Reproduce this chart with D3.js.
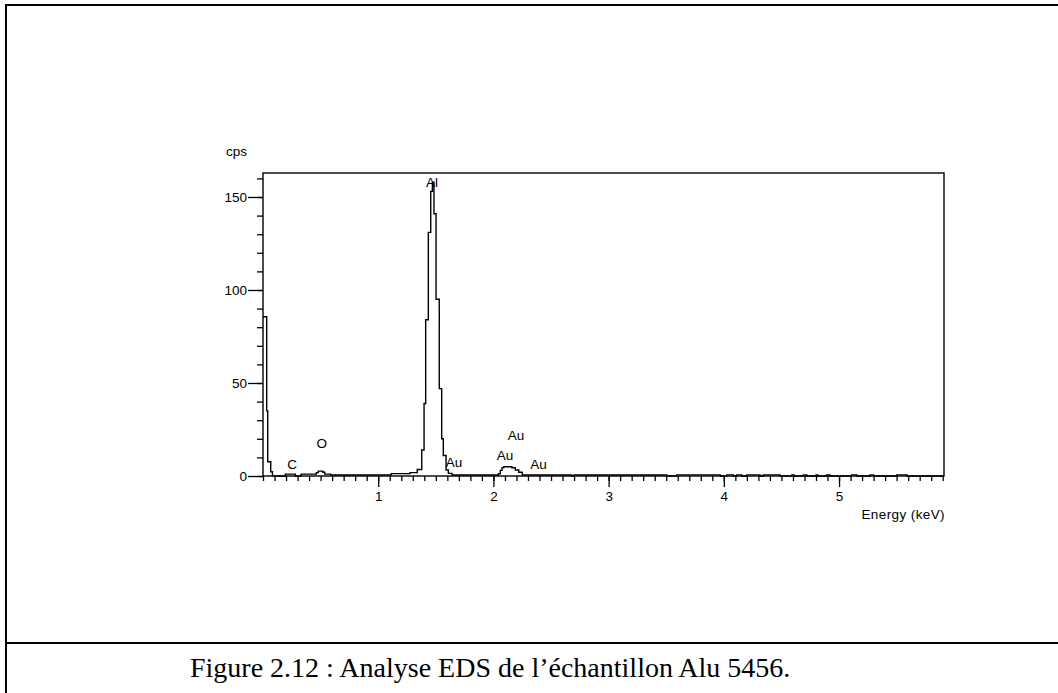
<!DOCTYPE html>
<html><head><meta charset="utf-8">
<script src="https://cdn.jsdelivr.net/npm/d3@7/dist/d3.min.js"></script>
<style>
html,body{margin:0;padding:0;background:#fff;}
svg{display:block;}
.ax text{font-family:"Liberation Sans",Arial,sans-serif;font-size:13.5px;fill:#000;}
</style></head>
<body><svg id="c" width="1058" height="693"></svg>
<script>
// ---- data ----
// spectrum as step levels: each energy (keV) starts a level of counts (cps)
const energies = [
  0, 0.032, 0.041, 0.067, 0.082,            // low-energy noise peak
  0.194, 0.281, 0.330,                       // C region
  0.463, 0.480, 0.520, 0.536, 0.588,         // O peak
  1.114, 1.276, 1.339, 1.378, 1.398, 1.412,  // Al rise
  1.435, 1.456, 1.470, 1.484, 1.502,         // Al top
  1.530, 1.551, 1.565, 1.589, 1.609, 1.641,  // Al tail
  2.043, 2.060, 2.075, 2.090, 2.160, 2.190, 2.220, 2.250, // Au M bump
  2.680, 2.700, 3.504, 3.590, 3.970,
  4.025, 4.083, 4.112, 4.155, 4.200, 4.314, 4.343, 4.488,
  4.590, 4.610, 4.690, 4.720, 4.800, 4.815, 4.893, 4.922,
  5.110, 5.154, 5.270, 5.300, 5.500, 5.590, 5.911
];
const counts = [
  85.6, 35, 7.7, 2.3, 0,
  1, 0, 1,
  1.8, 2.6, 2.0, 1, 0.5,
  1.3, 1.8, 3.5, 14, 39, 84,
  131, 153, 158, 141, 95,
  47, 20, 11, 3.2, 1.4, 0.5,
  1.2, 3, 4.5, 5, 4.4, 3.2, 2, 0.5,
  0, 0.5, 0, 0.6, 0,
  0.6, 0, 0.6, 0, 0.6, 0, 0.6, 0,
  0.6, 0, 0.6, 0, 0.6, 0, 0.6, 0,
  0.6, 0, 0.6, 0, 0.6, 0, 0
];
const xMajorTicks = [1, 2, 3, 4, 5];
const yMajorTicks = [0, 50, 100, 150];
const peakNames  = ["Al", "C", "O", "Au", "Au", "Au", "Au"];
const peakE      = [1.467, 0.252, 0.51, 1.658, 2.196, 2.10, 2.391];
const peakCps    = [155.4, 3.8, 15.0, 4.6, 19.4, 8.6, 3.8];
const xTitle = "Energy (keV)";
const yTitle = "cps";
const caption = "Figure 2.12 : Analyse EDS de l\u2019échantillon Alu 5456.";

// ---- layout ----
const svg = d3.select("#c");
const L = 263, R = 944, T = 173, B = 476;
const x = d3.scaleLinear().domain([0, 5.911]).range([L, R]);
const y = d3.scaleLinear().domain([0, 162.9]).range([B, T]);

// outer figure frame
const fr = svg.append("g").attr("stroke", "#000").attr("stroke-width", 2).attr("fill", "none");
fr.append("line").attr("x1", 6).attr("y1", 5).attr("x2", 1058).attr("y2", 5);
fr.append("line").attr("x1", 6).attr("y1", 4).attr("x2", 6).attr("y2", 693);
fr.append("line").attr("x1", 6).attr("y1", 643).attr("x2", 1058).attr("y2", 643);

// caption
svg.append("text").attr("x", 190).attr("y", 676.5)
  .attr("font-family", "'Liberation Serif','Times New Roman',serif")
  .attr("font-size", 28).attr("fill", "#000").text(caption);

// axes
const xMinor = d3.range(0, 60).map(i => i / 10);
const yMinor = d3.range(0, 17).map(i => i * 10);

const gx = svg.append("g").attr("class", "ax").attr("transform", `translate(0,${B})`)
  .call(d3.axisBottom(x).tickValues(xMinor).tickSize(5).tickFormat(""));
gx.select(".domain").remove();
const gx2 = svg.append("g").attr("class", "ax").attr("transform", `translate(0,${B})`)
  .call(d3.axisBottom(x).tickValues(xMajorTicks).tickSize(11).tickPadding(4).tickFormat(d3.format("d")));
gx2.select(".domain").remove();

const gy = svg.append("g").attr("class", "ax").attr("transform", `translate(${L},0)`)
  .call(d3.axisLeft(y).tickValues(yMinor).tickSize(6).tickFormat(""));
gy.select(".domain").remove();
const gy2 = svg.append("g").attr("class", "ax").attr("transform", `translate(${L},0)`)
  .call(d3.axisLeft(y).tickValues(yMajorTicks).tickSize(15).tickPadding(1).tickFormat(d3.format("d")));
gy2.select(".domain").remove();
svg.selectAll(".ax line").attr("stroke", "#000").attr("stroke-width", 1.3);
gx2.selectAll("text").attr("dy", null).attr("y", 25);

// plot box
svg.append("rect").attr("x", L).attr("y", T).attr("width", R - L).attr("height", B - T)
  .attr("fill", "none").attr("stroke", "#000").attr("stroke-width", 1.4);

// spectrum
const pts = energies.map((e, i) => [e, counts[i]]);
svg.append("path").datum(pts)
  .attr("fill", "none").attr("stroke", "#000").attr("stroke-width", 1.4)
  .attr("d", d3.line().x(d => x(d[0])).y(d => y(d[1])).curve(d3.curveStepAfter));

// axis titles
const ft = "'Liberation Sans',Arial,sans-serif";
svg.append("text").attr("x", 226).attr("y", 156).attr("font-family", ft).attr("font-size", 13.5).text(yTitle);
svg.append("text").attr("x", 945).attr("y", 519).attr("text-anchor", "end")
  .attr("font-family", ft).attr("font-size", 13.5).attr("letter-spacing", 0.4).text(xTitle);

// peak labels
svg.append("g").selectAll("text").data(peakNames).join("text")
  .attr("x", (d, i) => x(peakE[i])).attr("y", (d, i) => y(peakCps[i]))
  .attr("text-anchor", "middle").attr("font-family", ft).attr("font-size", 13.5)
  .attr("fill", "#000").text(d => d);
</script></body></html>
